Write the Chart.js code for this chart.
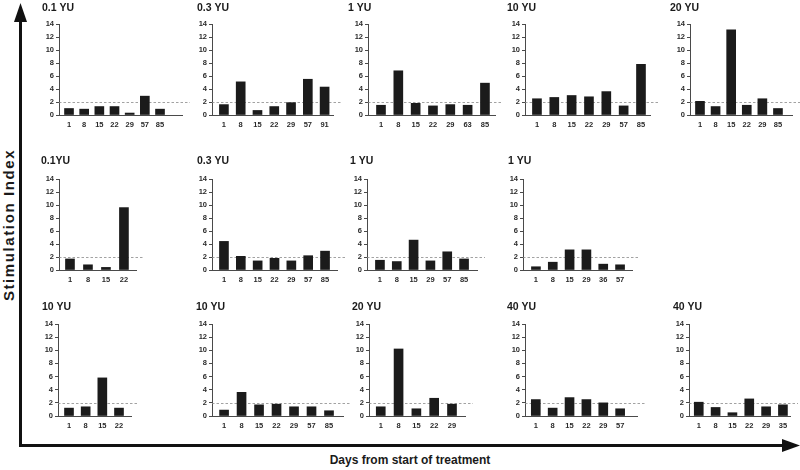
<!DOCTYPE html>
<html>
<head>
<meta charset="utf-8">
<script src="https://cdn.jsdelivr.net/npm/chart.js@4.4.1/dist/chart.umd.min.js"></script>
<style>
  html, body { margin: 0; padding: 0; background: #ffffff; }
  #wrap { position: relative; width: 800px; height: 470px; overflow: hidden; background: #fff; font-family: "Liberation Sans", Arial, sans-serif; }
  canvas.panel { position: absolute; }
  #axes { position: absolute; left: 0; top: 0; }
  .axtitle { position: absolute; font-weight: bold; font-size: 12px; color: #1a1a1a; white-space: nowrap; }
  #ytitle { left: 8px; top: 225px; transform: translate(-50%, -50%) rotate(-90deg); font-size: 15px; letter-spacing: 1.6px; }
  #xtitle { left: 410px; top: 460px; transform: translate(-50%, -50%); }
</style>
</head>
<body>
<div id="wrap">
  <svg id="axes" width="800" height="470">
    <line x1="20.5" y1="447" x2="20.5" y2="20" stroke="#111" stroke-width="3"/>
    <polygon points="20.5,3 14,22 27,22" fill="#111"/>
    <line x1="19" y1="445.5" x2="784" y2="445.5" stroke="#111" stroke-width="3"/>
    <polygon points="800,445.5 782,439 782,452" fill="#111"/>
  </svg>
  <div id="ytitle" class="axtitle">Stimulation Index</div>
  <div id="xtitle" class="axtitle">Days from start of treatment</div>
</div>
<script>
// ---------- data ----------
const thresholdSI = 2;
const yTicksMax = 14;

const panelTitles = ['0.1 YU','0.3 YU','1 YU','10 YU','20 YU',
                     '0.1YU','0.3 YU','1 YU','1 YU',
                     '10 YU','10 YU','20 YU','40 YU','40 YU'];

const days01 = ['1','8','15','22','29','57','85'];
const si01   = [1.0, 0.9, 1.3, 1.3, 0.3, 2.9, 0.9];
const days02 = ['1','8','15','22','29','57','91'];
const si02   = [1.6, 5.1, 0.7, 1.3, 1.9, 5.5, 4.3];
const days03 = ['1','8','15','22','29','63','85'];
const si03   = [1.5, 6.8, 1.8, 1.4, 1.6, 1.5, 4.9];
const days04 = ['1','8','15','22','29','57','85'];
const si04   = [2.5, 2.7, 3.0, 2.8, 3.6, 1.4, 7.8];
const days05 = ['1','8','15','22','29','85'];
const si05   = [2.1, 1.3, 13.1, 1.5, 2.5, 1.0];

const days06 = ['1','8','15','22'];
const si06   = [1.7, 0.8, 0.4, 9.6];
const days07 = ['1','8','15','22','29','57','85'];
const si07   = [4.4, 2.1, 1.4, 1.8, 1.4, 2.2, 2.9];
const days08 = ['1','8','15','29','57','85'];
const si08   = [1.5, 1.3, 4.6, 1.4, 2.8, 1.7];
const days09 = ['1','8','15','29','36','57'];
const si09   = [0.5, 1.2, 3.1, 3.1, 0.9, 0.8];

const days10 = ['1','8','15','22'];
const si10   = [1.2, 1.4, 5.8, 1.2];
const days11 = ['1','8','15','22','29','57','85'];
const si11   = [0.9, 3.6, 1.7, 1.8, 1.4, 1.4, 0.8];
const days12 = ['1','8','15','22','29'];
const si12   = [1.4, 10.2, 1.1, 2.7, 1.8];
const days13 = ['1','8','15','22','29','57'];
const si13   = [2.5, 1.2, 2.8, 2.5, 2.0, 1.1];
const days14 = ['1','8','15','22','29','35'];
const si14   = [2.1, 1.3, 0.5, 2.6, 1.4, 1.7];

const panelDays = [days01,days02,days03,days04,days05,days06,days07,days08,days09,days10,days11,days12,days13,days14];
const panelSI   = [si01,si02,si03,si04,si05,si06,si07,si08,si09,si10,si11,si12,si13,si14];

// ---------- layout (pixel placement of each small panel) ----------
const rows = [
  { top: 2,   height: 129, titleGap: 9.4 },
  { top: 155, height: 131, titleGap: 11.4 },
  { top: 301, height: 131, titleGap: 10.4 }
];
// left = title x, axisX = y-axis line, axisEnd = end of x-axis line, padL/padR in category units
const panelLayout = [
  { row:0, left:42,  axisX:59,  axisEnd:182, padL:0.66, padR:1.45 },
  { row:0, left:197, axisX:212, axisEnd:333, padL:0.71, padR:0.5 },
  { row:0, left:348, axisX:368, axisEnd:495, padL:0.75, padR:0.58 },
  { row:0, left:507, axisX:525, axisEnd:650, padL:0.69, padR:0.52 },
  { row:0, left:670, axisX:690, axisEnd:792, padL:0.64, padR:0.9 },
  { row:1, left:41,  axisX:59,  axisEnd:136, padL:0.61, padR:0.67 },
  { row:1, left:197, axisX:212, axisEnd:337, padL:0.71, padR:0.71 },
  { row:1, left:350, axisX:367, axisEnd:477, padL:0.77, padR:0.77 },
  { row:1, left:508, axisX:523, axisEnd:632, padL:0.77, padR:0.71 },
  { row:2, left:42,  axisX:58,  axisEnd:131, padL:0.66, padR:0.72 },
  { row:2, left:196, axisX:212, axisEnd:343, padL:0.69, padR:0.8 },
  { row:2, left:352, axisX:369, axisEnd:465, padL:0.66, padR:0.73 },
  { row:2, left:507, axisX:525, axisEnd:637, padL:0.64, padR:1.0 },
  { row:2, left:673, axisX:689, axisEnd:790, padL:0.58, padR:0.42 }
];

const FONT = '"Liberation Sans", Arial, sans-serif';
const EXTRA_R = 10;

const thresholdPlugin = {
  id: 'threshold',
  beforeDatasetsDraw(chart) {
    const ctx = chart.ctx;
    const y = Math.round(chart.scales.y.getPixelForValue(thresholdSI)) + 0.5;
    ctx.save();
    ctx.strokeStyle = '#8a8a8a';
    ctx.lineWidth = 0.8;
    ctx.setLineDash([2.5, 2]);
    ctx.beginPath();
    ctx.moveTo(chart.chartArea.left, y);
    ctx.lineTo(chart.chartArea.right + 8, y);
    ctx.stroke();
    ctx.restore();
  }
};

const wrap = document.getElementById('wrap');

panelLayout.forEach((L, k) => {
  const R = rows[L.row];
  const days = panelDays[k];
  const vals = panelSI[k];
  const cv = document.createElement('canvas');
  cv.className = 'panel';
  const w = L.axisEnd - L.left + EXTRA_R;
  cv.width = w; cv.height = R.height;
  cv.style.left = L.left + 'px';
  cv.style.top = R.top + 'px';
  cv.style.width = w + 'px';
  cv.style.height = R.height + 'px';
  wrap.appendChild(cv);

  new Chart(cv.getContext('2d'), {
    type: 'bar',
    data: {
      datasets: [{
        data: vals.map((v, i) => ({ x: i, y: v })),
        backgroundColor: '#1b1b1b',
        borderWidth: 0,
        barThickness: 9
      }]
    },
    options: {
      responsive: false,
      animation: false,
      devicePixelRatio: 1,
      layout: { padding: { left: 0, right: EXTRA_R, top: 0, bottom: 0 } },
      plugins: {
        legend: { display: false },
        tooltip: { enabled: false },
        title: {
          display: true,
          text: panelTitles[k],
          align: 'start',
          color: '#1a1a1a',
          font: { family: FONT, size: 10.5, weight: 'bold', lineHeight: 1.2 },
          padding: { top: 0, bottom: R.titleGap }
        }
      },
      scales: {
        x: {
          type: 'linear',
          offset: false,
          bounds: 'data',
          min: -L.padL,
          max: days.length - 1 + L.padR,
          grid: { display: false, drawTicks: false, offset: false },
          border: { display: true, color: '#4a4a4a', width: 1 },
          afterBuildTicks: (scale) => { scale.ticks = days.map((d, i) => ({ value: i })); },
          afterFit: (scale) => { scale.height = 16; },
          ticks: {
            autoSkip: false,
            maxRotation: 0,
            padding: 5,
            color: '#2a2a2a',
            font: { family: FONT, size: 7.5, weight: 'bold' },
            callback: (value) => days[value]
          }
        },
        y: {
          min: 0,
          max: yTicksMax,
          grid: { display: true, drawOnChartArea: false, drawTicks: true, tickLength: 3, color: '#4a4a4a' },
          border: { display: true, color: '#4a4a4a', width: 1 },
          afterFit: (scale) => { scale.width = L.axisX - L.left; },
          ticks: {
            stepSize: 2,
            padding: 2,
            color: '#2a2a2a',
            font: { family: FONT, size: 7.5, weight: 'bold' }
          }
        }
      }
    },
    plugins: [thresholdPlugin]
  });
});
</script>
</body>
</html>
